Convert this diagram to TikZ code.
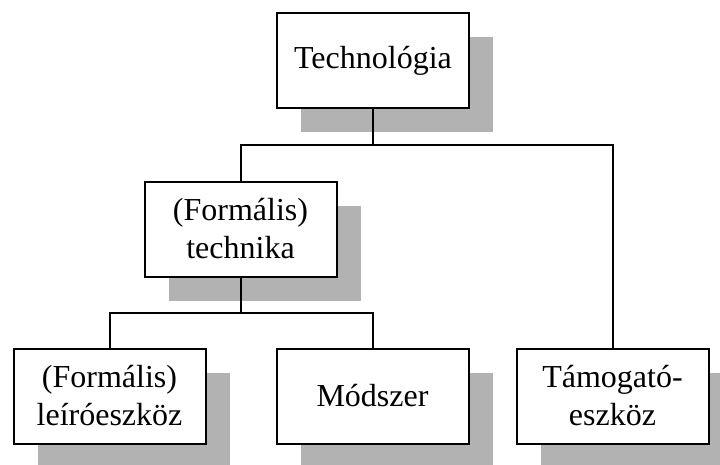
\documentclass[tikz,border=0pt]{standalone}
\usepackage{fontspec}
\setmainfont{Liberation Serif}
\usetikzlibrary{positioning,shadows,calc}

\tikzset{
  box/.style={draw, line width=2pt, fill=white, minimum width=192pt, minimum height=95pt,
    inner sep=0pt, align=center, font=\fontsize{32}{38}\selectfont,
    drop shadow={shadow xshift=24pt, shadow yshift=-24pt, fill=black!30, opacity=1}},
  link/.style={line width=2pt}
}

\begin{document}
\begin{tikzpicture}[node distance=2cm, on grid]
\useasboundingbox (0,0) rectangle (720pt,-464pt);
\node[box] (tech) at (373pt,-60.5pt) {Technológia};
\node[box] (techn) [below left=168.5pt and 132.5pt of tech] {(Formális)\\technika};
\node[box] (leiro) [below left=167pt and 131pt of techn] {(Formális)\\leíróeszköz};
\node[box] (modszer) [below right=167pt and 132pt of techn] {Módszer};
\node[box] (tamogato) [right=240pt of modszer] {Támogató-\\eszköz};

\coordinate (j1) at ($(tech.south)!.5!(tech.south |- techn.north)$);
\coordinate (j2) at ($(techn.south)!.5!(techn.south |- leiro.north)$);
\draw[link] (tech.south) -- (j1);
\draw[link] (techn.north) |- (j1) -| (tamogato.north);
\draw[link] (techn.south) -- (j2);
\draw[link] (leiro.north) |- (j2) -| (modszer.north);
\end{tikzpicture}
\end{document}
